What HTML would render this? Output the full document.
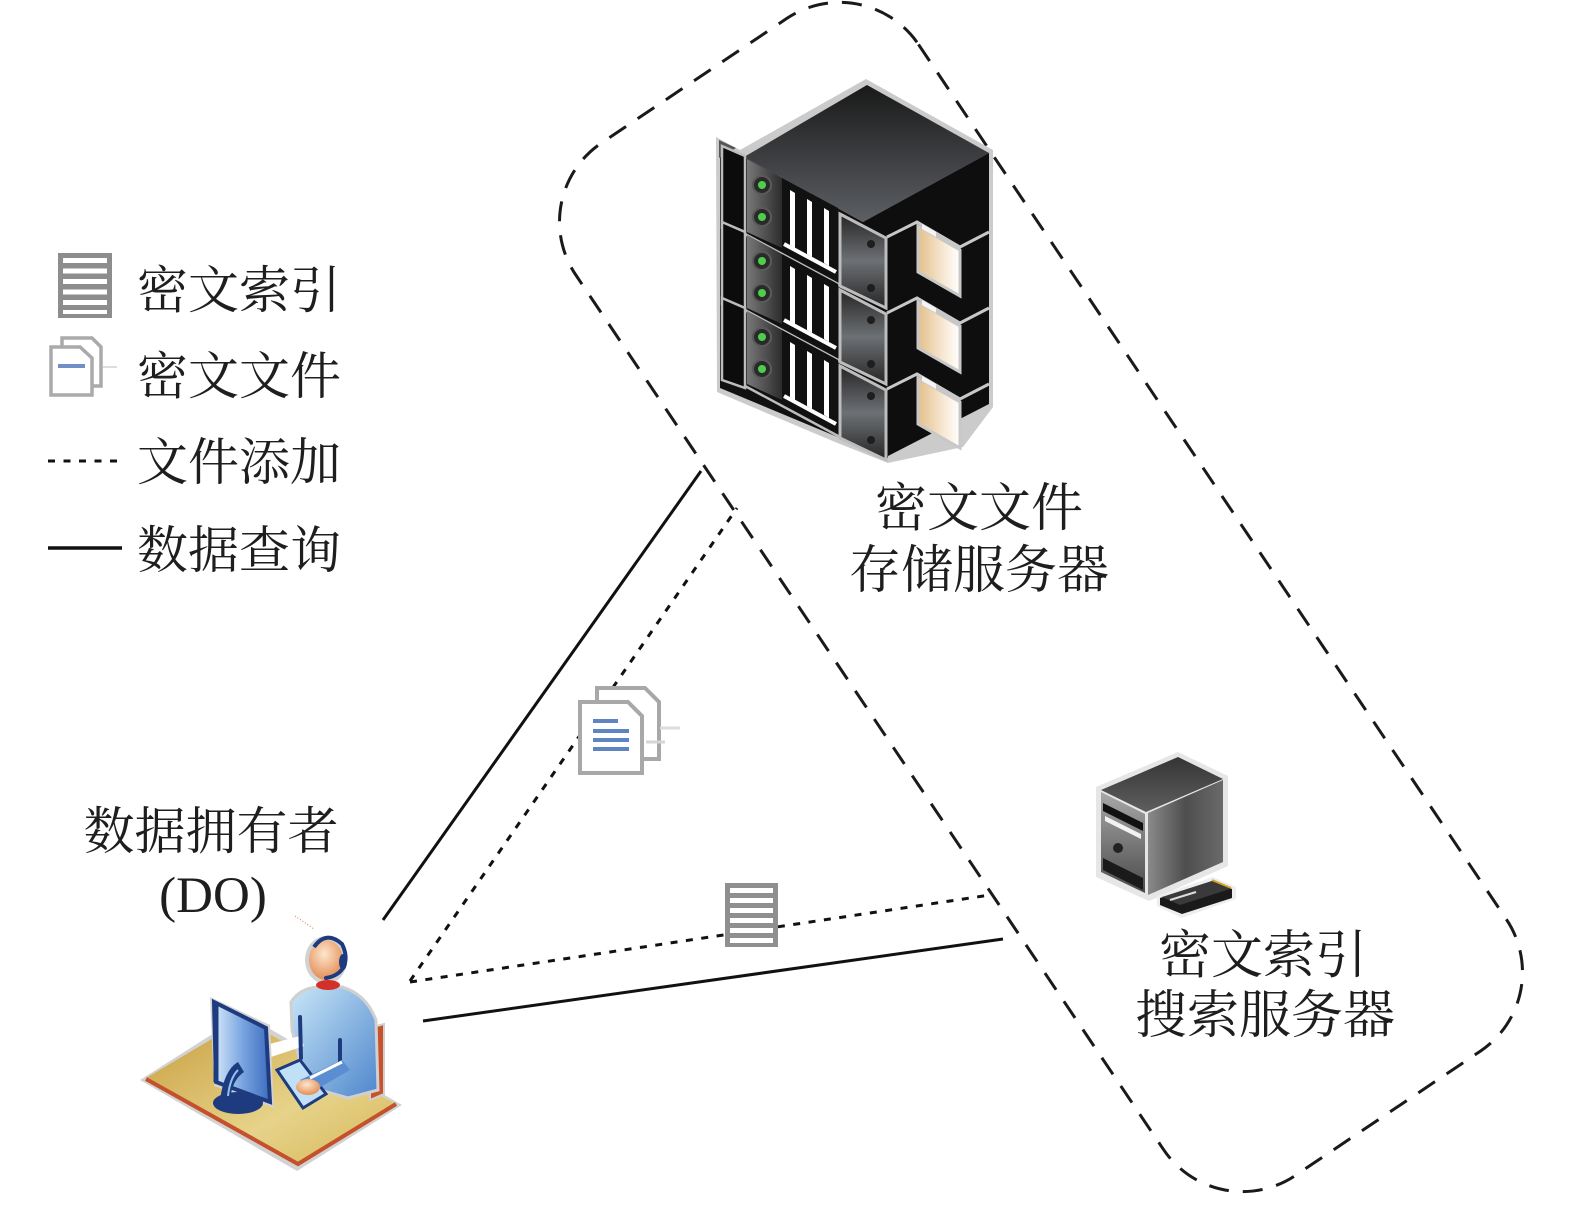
<!DOCTYPE html>
<html><head><meta charset="utf-8">
<style>
html,body{margin:0;padding:0;background:#fff;}
svg{display:block;}
text{font-family:"Liberation Serif","Noto Serif CJK SC",serif;fill:#1e1e1e;}
</style></head><body>
<svg width="1575" height="1209" viewBox="0 0 1575 1209" xmlns="http://www.w3.org/2000/svg">
<defs>
 <linearGradient id="topg" x1="0" y1="0" x2="0" y2="1"><stop offset="0" stop-color="#191919"/><stop offset="1" stop-color="#5c5f64"/></linearGradient>
 <linearGradient id="panelg" x1="0" y1="0" x2="1" y2="0"><stop offset="0" stop-color="#787878"/><stop offset="1" stop-color="#2c2c2c"/></linearGradient>
 <linearGradient id="brkg" x1="0" y1="0" x2="0" y2="1"><stop offset="0" stop-color="#262626"/><stop offset="0.5" stop-color="#6d7074"/><stop offset="1" stop-color="#262626"/></linearGradient>
 <linearGradient id="foldg" x1="0" y1="0" x2="1" y2="0"><stop offset="0" stop-color="#e3bf8c"/><stop offset="0.6" stop-color="#f7e8d2"/><stop offset="1" stop-color="#ffffff"/></linearGradient>
 <linearGradient id="deskg" x1="0" y1="0" x2="1" y2="1"><stop offset="0" stop-color="#c89d3e"/><stop offset="0.6" stop-color="#e6d389"/><stop offset="1" stop-color="#d6b65a"/></linearGradient>
 <linearGradient id="bodyg" x1="0" y1="0" x2="1" y2="1"><stop offset="0" stop-color="#c8e6f8"/><stop offset="1" stop-color="#4e86cc"/></linearGradient>
 <linearGradient id="scrg" x1="0" y1="0" x2="1" y2="0"><stop offset="0" stop-color="#d6e8fa"/><stop offset="0.5" stop-color="#7aa6e0"/><stop offset="1" stop-color="#3d6cc0"/></linearGradient>
 <radialGradient id="skin" cx="0.45" cy="0.35" r="0.7"><stop offset="0" stop-color="#fde6cc"/><stop offset="1" stop-color="#e2864c"/></radialGradient>
 <linearGradient id="pctop" x1="0" y1="0" x2="0" y2="1"><stop offset="0" stop-color="#353535"/><stop offset="1" stop-color="#5e5e5e"/></linearGradient>
 <linearGradient id="pcright" x1="0" y1="0" x2="1" y2="0"><stop offset="0" stop-color="#8a8a8a"/><stop offset="0.5" stop-color="#4e4e4e"/><stop offset="1" stop-color="#6a6a6a"/></linearGradient>
 <linearGradient id="pcfront" x1="0" y1="0" x2="0" y2="1"><stop offset="0" stop-color="#a8a8a8"/><stop offset="1" stop-color="#4a4a4a"/></linearGradient>
</defs>

<!-- dashed boundary -->
<rect x="419" y="390.5" width="1244" height="413" rx="95" ry="95" transform="rotate(56.1 1041 597)" fill="none" stroke="#1a1a1a" stroke-width="3" stroke-dasharray="20 14"/>

<!-- connectors -->
<line x1="383" y1="920" x2="701" y2="471" stroke="#111" stroke-width="3"/>
<line x1="423" y1="1021" x2="1003" y2="939" stroke="#111" stroke-width="3"/>
<line x1="410" y1="981" x2="737" y2="508" stroke="#111" stroke-width="3" stroke-dasharray="7 8.5"/>
<line x1="410" y1="982" x2="990" y2="895" stroke="#111" stroke-width="3" stroke-dasharray="7 8.5"/>

<!-- legend -->
<rect x="58" y="253" width="54" height="65" fill="#8d8d8d"/>
<g fill="#fff">
 <rect x="63" y="258" width="44" height="5"/><rect x="63" y="268.5" width="44" height="5"/>
 <rect x="63" y="279" width="44" height="5"/><rect x="63" y="289.5" width="44" height="5"/>
 <rect x="63" y="300" width="44" height="5"/><rect x="63" y="310" width="44" height="4"/>
</g>
<g fill="#fff" stroke="#aaaaaa" stroke-width="3.5">
 <path d="M62,338 L92,338 L101,347 L101,386 L62,386 Z"/>
 <path d="M51,347 L80,347 L92,358 L92,395 L51,395 Z"/>
</g>
<rect x="58" y="364" width="27" height="4" fill="#6f8fc6"/>
<line x1="103" y1="367" x2="117" y2="367" stroke="#dddddd" stroke-width="2"/>
<line x1="48" y1="461" x2="118" y2="461" stroke="#111" stroke-width="3" stroke-dasharray="7 8.5"/>
<line x1="48" y1="548" x2="122" y2="548" stroke="#111" stroke-width="3.5"/>
<g font-size="51">
 <text x="137" y="308">密文索引</text>
 <text x="137" y="394">密文文件</text>
 <text x="137" y="480">文件添加</text>
 <text x="137" y="568">数据查询</text>
</g>

<!-- middle file icon -->
<g fill="#fff" stroke="#a8a8a8" stroke-width="4">
 <path d="M597,688 L645,688 L659,702 L659,759 L597,759 Z"/>
 <path d="M580,702 L628,702 L642,716 L642,773 L580,773 Z"/>
</g>
<g fill="#5f84c2">
 <rect x="593" y="719" width="25" height="4"/>
 <rect x="593" y="729" width="36" height="4"/>
 <rect x="593" y="738" width="36" height="4"/>
 <rect x="593" y="747" width="36" height="4"/>
</g>
<line x1="660" y1="728" x2="680" y2="728" stroke="#dcdcdc" stroke-width="3"/>
<line x1="646" y1="742" x2="665" y2="742" stroke="#d6d6d6" stroke-width="3"/>

<!-- middle index icon -->
<rect x="725" y="883" width="53" height="64" fill="#8f8f8f"/>
<g fill="#fff">
 <rect x="730" y="888" width="43" height="5"/><rect x="730" y="898" width="43" height="5"/>
 <rect x="730" y="908" width="43" height="5"/><rect x="730" y="918" width="43" height="5"/>
 <rect x="730" y="928" width="43" height="5"/><rect x="730" y="938" width="43" height="5"/>
</g>

<!-- server rack -->
<polygon points="716,137 740,150 866,79 993,150 993,407 963,447 888,463 835,442 717,392" fill="#cbcbcb"/>
<polygon points="720,142 744,157 863,222 888,232 888,458 720,388" fill="#111"/>
<polygon points="867,85 989,153 863,222 744,157" fill="url(#topg)"/>
<polygon points="863,222 989,153 989,404 888,456" fill="#0e0e0e"/>
<polygon points="719,140 736,148 719,158" fill="#555"/>
<g id="unit">
 <polygon points="722,146 745,156 745,236 722,228" fill="#0c0c0c" stroke="#bdbdbd" stroke-width="2.5"/>
 <polygon points="747,159 782,178 782,248 747,232" fill="url(#panelg)"/>
 <circle cx="762" cy="185" r="9" fill="#2a2a2a" stroke="#5a5a5a" stroke-width="2"/>
 <circle cx="762" cy="185" r="4" fill="#4ccf4c"/>
 <circle cx="762" cy="217" r="9" fill="#2a2a2a" stroke="#5a5a5a" stroke-width="2"/>
 <circle cx="762" cy="217" r="4" fill="#4ccf4c"/>
 <polygon points="782,178 838,208 838,278 782,248" fill="#111"/>
 <polygon points="790,190 795,193 795,248 790,245" fill="#fff"/>
 <polygon points="807,199 812,202 812,257 807,254" fill="#fff"/>
 <polygon points="824,208 829,211 829,266 824,263" fill="#fff"/>
 <line x1="784" y1="244" x2="836" y2="272" stroke="#fff" stroke-width="4"/>
 <line x1="745" y1="234" x2="840" y2="285" stroke="#bdbdbd" stroke-width="2.5"/>
 <polygon points="840,214 886,238 886,308 840,286" fill="url(#brkg)" stroke="#bdbdbd" stroke-width="3"/>
 <circle cx="871" cy="244" r="4" fill="#1e1e1e"/>
 <circle cx="871" cy="288" r="4" fill="#1e1e1e"/>
 <polyline points="887,237 917,222 960,247 989,232" fill="none" stroke="#c8c8c8" stroke-width="3"/>
 <polygon points="918,226 960,250 960,296 918,272" fill="url(#foldg)" stroke="#c8c8c8" stroke-width="3"/>
 <polygon points="922,229 936,237 936,232 922,224" fill="#f4f4f4"/>
</g>
<use href="#unit" transform="translate(0,76)"/>
<use href="#unit" transform="translate(0,152)"/>

<!-- server label -->
<g font-size="52" text-anchor="middle">
 <text x="979" y="526">密文文件</text>
 <text x="979" y="588">存储服务器</text>
</g>

<!-- PC tower -->
<polygon points="1096,787 1178,752 1228,776 1228,866 1149,901 1096,877" fill="#e6e6e6"/>
<polygon points="1101,790 1178,757 1223,779 1146,812" fill="url(#pctop)"/>
<polygon points="1148,813 1223,780 1223,862 1148,895" fill="url(#pcright)"/>
<polygon points="1101,792 1145,814 1145,893 1101,872" fill="url(#pcfront)"/>
<polygon points="1103,803 1143,823 1143,831 1103,811" fill="#111"/>
<polygon points="1105,816 1141,834 1141,839 1105,821" fill="#f2f2f2"/>
<circle cx="1118" cy="848" r="5" fill="#222"/>
<polygon points="1103,858 1143,878 1143,890 1103,870" fill="#1a1a1a"/>
<polygon points="1157,896 1213,877 1236,887 1236,899 1182,918 1157,906" fill="#eeeeee"/>
<polygon points="1160,898 1212,881 1232,889 1232,898 1182,914 1160,905" fill="#1a1a1a"/>
<polygon points="1162,897 1212,881 1230,889 1180,905" fill="#3a3a3a"/>
<line x1="1170" y1="900" x2="1196" y2="892" stroke="#ddd" stroke-width="2"/>
<line x1="1212" y1="880" x2="1231" y2="888" stroke="#d8a428" stroke-width="2"/>

<!-- search server label -->
<g font-size="52" text-anchor="middle">
 <text x="1263" y="973">密文索引</text>
 <text x="1265" y="1033">搜索服务器</text>
</g>

<!-- data owner label -->
<text x="211" y="849" font-size="51" text-anchor="middle">数据拥有者</text>
<text x="213" y="912" font-size="51" text-anchor="middle" style="font-family:'Liberation Serif',serif">(DO)</text>

<!-- person at desk -->
<polygon points="140,1080 244,1014 402,1105 297,1171" fill="#d2d2d2"/>
<polygon points="146,1078 244,1020 396,1104 298,1164" fill="url(#deskg)"/>
<polyline points="146,1079 298,1164 396,1104" fill="none" stroke="#c4502c" stroke-width="4"/>
<polygon points="370,1028 384,1024 384,1094 370,1100" fill="#c8522c" stroke="#d0d0d0" stroke-width="2"/>
<path d="M291,1002 Q300,988 318,987 L342,987 Q366,994 376,1020 L378,1090 L348,1098 L320,1090 L300,1062 L292,1030 Z" fill="url(#bodyg)" stroke="#d0d0d0" stroke-width="3"/>
<polygon points="262,1046 300,1036 304,1046 268,1058" fill="#ffffff"/>
<line x1="300" y1="1017" x2="301" y2="1058" stroke="#1f3b80" stroke-width="4" stroke-linecap="round"/>
<line x1="340" y1="1040" x2="340" y2="1064" stroke="#1f3b80" stroke-width="4" stroke-linecap="round"/>
<polygon points="277,1070 300,1060 326,1094 303,1108" fill="#bfe0f6" stroke="#1f3b80" stroke-width="3"/>
<path d="M300,1080 L342,1060 L350,1070 L312,1092 Z" fill="#5a8ed0"/>
<line x1="310" y1="1078" x2="342" y2="1062" stroke="#fff" stroke-width="3"/>
<ellipse cx="308" cy="1087" rx="12" ry="8" fill="url(#skin)"/>
<ellipse cx="326" cy="960" rx="21" ry="24" fill="#d2d2d2"/>
<ellipse cx="328" cy="985" rx="12" ry="5" fill="#d3302a"/>
<ellipse cx="326" cy="960" rx="17" ry="20" fill="url(#skin)"/>
<path d="M314,947 Q326,930 342,944 Q348,956 344,966" fill="none" stroke="#1f3b80" stroke-width="4"/>
<ellipse cx="343" cy="962" rx="4" ry="8" fill="#1f3b80"/>
<path d="M343,968 Q338,976 326,978" fill="none" stroke="#1f3b80" stroke-width="4" stroke-linecap="round"/>
<line x1="295" y1="916" x2="314" y2="929" stroke="#c87850" stroke-width="1" stroke-dasharray="1 2"/>
<polygon points="210,997 270,1025 274,1108 214,1086" fill="#d2d2d2"/>
<polygon points="214,1002 266,1028 270,1102 216,1082" fill="url(#scrg)" stroke="#1f3b80" stroke-width="4"/>
<line x1="216" y1="1005" x2="216" y2="1082" stroke="#1f3b80" stroke-width="5"/>
<ellipse cx="238" cy="1103" rx="25" ry="11" fill="#1f3b80"/>
<path d="M220,1100 Q224,1070 238,1062 L244,1072 Q232,1080 230,1100 Z" fill="#1f3b80"/>
<path d="M228,1096 Q230,1078 238,1070" fill="none" stroke="#8cc4ee" stroke-width="2"/>
</svg>
</body></html>
